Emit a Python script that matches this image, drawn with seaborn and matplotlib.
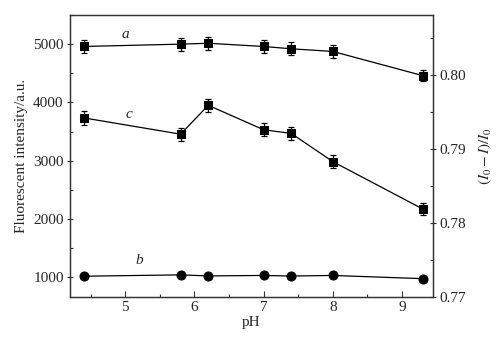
import matplotlib
matplotlib.use("Agg")
import matplotlib.pyplot as plt
import seaborn as sns
import pandas as pd
from matplotlib.ticker import MultipleLocator

sns.set_theme(style="ticks")
plt.rcParams['font.family'] = ['Liberation Serif', 'DejaVu Serif']
plt.rcParams['mathtext.fontset'] = 'stix'

ph = [4.4, 5.8, 6.2, 7.0, 7.4, 8.0, 9.3]
a_vals = [4960, 5000, 5015, 4960, 4920, 4875, 4460]
a_err = [110, 110, 110, 110, 110, 110, 90]
b_vals = [1017, 1040, 1022, 1030, 1020, 1030, 975]
c_vals = [0.7942, 0.7920, 0.7959, 0.7926, 0.7921, 0.7883, 0.7819]
c_err = [0.0009, 0.0009, 0.0009, 0.0009, 0.0009, 0.0009, 0.0008]

df = pd.DataFrame({"pH": ph, "a": a_vals, "b": b_vals, "c": c_vals})

fig = plt.figure(figsize=(4.97, 3.45), dpi=100)
ax = fig.add_axes([0.1408, 0.1391, 0.7304, 0.8174])
ax2 = ax.twinx()

lw = 0.9
axc = '#333333'
sns.lineplot(data=df, x="pH", y="a", ax=ax, color='black', lw=lw,
             marker='s', markersize=5.8, markeredgecolor='black')
ax.errorbar(ph, a_vals, yerr=a_err, fmt='none', ecolor='black', elinewidth=0.9, capsize=2.5, capthick=0.9)
sns.lineplot(data=df, x="pH", y="b", ax=ax, color='black', lw=lw,
             marker='o', markersize=6.5, markeredgecolor='black')
sns.lineplot(data=df, x="pH", y="c", ax=ax2, color='black', lw=lw,
             marker='s', markersize=5.8, markeredgecolor='black')
ax2.errorbar(ph, c_vals, yerr=c_err, fmt='none', ecolor='black', elinewidth=0.9, capsize=2.5, capthick=0.9)

ax.set_xlim(4.2, 9.45)
ax.set_ylim(660, 5500)
ax2.set_ylim(0.77, 0.8081)

ax.xaxis.set_major_locator(MultipleLocator(1))
ax.xaxis.set_minor_locator(MultipleLocator(0.5))
ax.yaxis.set_major_locator(MultipleLocator(1000))
ax.yaxis.set_minor_locator(MultipleLocator(500))
ax2.yaxis.set_major_locator(MultipleLocator(0.01))
ax2.yaxis.set_minor_locator(MultipleLocator(0.005))
ax2.yaxis.set_major_formatter(matplotlib.ticker.FormatStrFormatter('%.2f'))

fs = 11
ax.tick_params(axis='x', which='major', direction='in', length=4, width=0.8, labelsize=fs, color=axc, pad=3)
ax.tick_params(axis='x', which='minor', direction='in', length=2.5, width=0.8, color=axc)
ax.tick_params(axis='y', which='major', direction='inout', length=5, width=0.8, labelsize=fs, color=axc, pad=2)
ax.tick_params(axis='y', which='minor', direction='in', length=2.5, width=0.8, color=axc)
ax2.tick_params(axis='y', which='major', direction='inout', length=5, width=0.8, labelsize=fs, color=axc, pad=2)
ax2.tick_params(axis='y', which='minor', direction='in', length=2.5, width=0.8, color=axc)

for a_ in (ax, ax2):
    for s in a_.spines.values():
        s.set_color(axc)
        s.set_linewidth(0.9)

ax.set_xlabel("pH", fontsize=fs, labelpad=1)
ax.set_ylabel("Fluorescent intensity/a.u.", fontsize=fs, labelpad=4)
ax2.set_ylabel(r"$(I_0-I)/I_0$", fontsize=fs, labelpad=8, rotation=90)

ax.text(5.0, 5170, "a", fontsize=fs, style='italic', ha='center', va='center')
ax.text(5.05, 3800, "c", fontsize=fs, style='italic', ha='center', va='center')
ax.text(5.2, 1280, "b", fontsize=fs, style='italic', ha='center', va='center')

fig.savefig("out.png", dpi=100)
